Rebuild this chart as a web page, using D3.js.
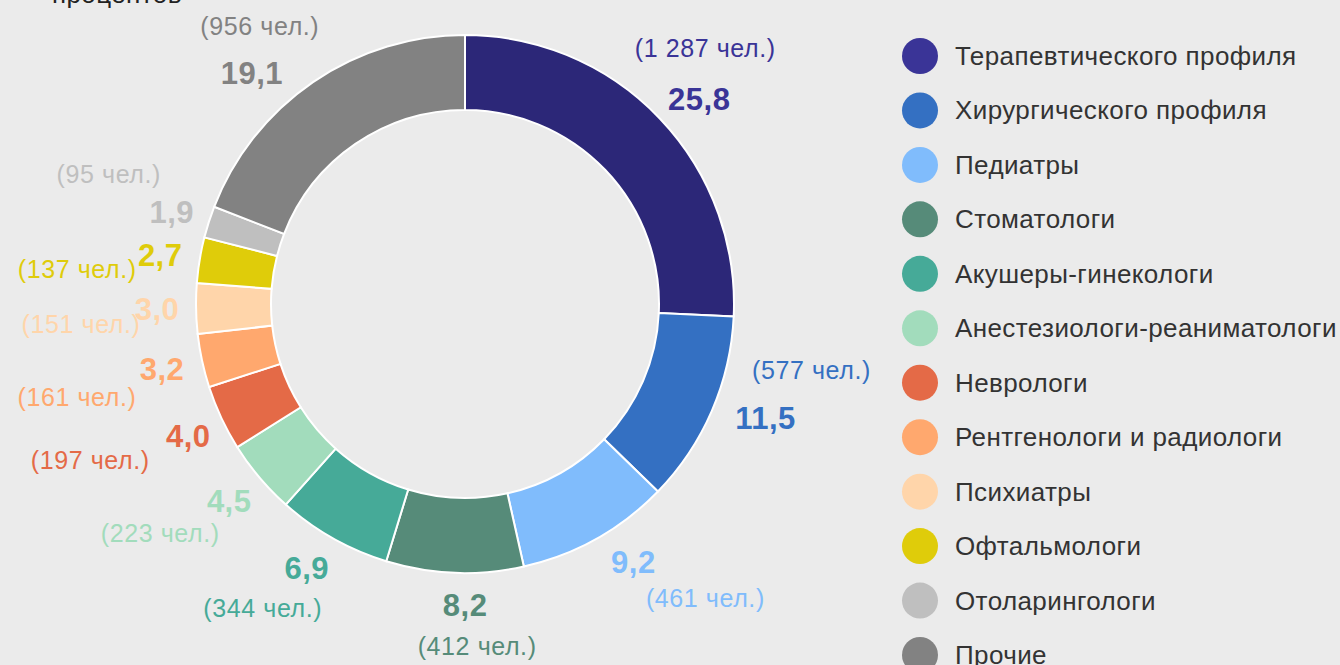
<!DOCTYPE html>
<html>
<head>
<meta charset="utf-8">
<script src="https://cdn.jsdelivr.net/npm/d3@7"></script>
<style>
  html, body { margin: 0; padding: 0; background: #ebebeb; }
  svg { display: block; font-family: "Liberation Sans", Arial, sans-serif; }
</style>
</head>
<body>
<div id="chart"></div>
<script>
// --- data ---
const categories = [
    "Терапевтического профиля",
    "Хирургического профиля",
    "Педиатры",
    "Стоматологи",
    "Акушеры-гинекологи",
    "Анестезиологи-реаниматологи",
    "Неврологи",
    "Рентгенологи и радиологи",
    "Психиатры",
    "Офтальмологи",
    "Отоларингологи",
    "Прочие"
];
const percents = [25.8, 11.5, 9.2, 8.2, 6.9, 4.5, 4.0, 3.2, 3.0, 2.7, 1.9, 19.1];
const people = [1287, 577, 461, 412, 344, 223, 197, 161, 151, 137, 95, 956];

const colors = ["#2c2778", "#3470c2", "#80bcfc", "#568b79", "#46aa98", "#a2dcbc",
                "#e46a47", "#ffa86e", "#ffd5aa", "#dfcc0a", "#bfbfbf", "#828282"];
// first category is drawn a bit lighter in legend and labels
const textColors = colors.map((c, i) => i === 0 ? "#3a3497" : c);

// label nudges: [value dx, value dy, count dx, count dy]
const labelShift = [
    [10, 10, 6, -52], [16, -9, 46, -48], [17, -12, 72, 35], [12, -8, 12, 40],
    [-6, -6, -44, 40], [1, -3, -69, 32], [4, 1, -98, 24], [0, 0, -85, 28],
    [2, 0, -76, 15], [1, 2, -83, 14], [2, 3, -63, -38], [-38, 25, 8, -47]
];

const width = 1340, height = 665;
const cx = 465, cy = 304;
const outerR = 269, innerR = 194;

const svg = d3.select("#chart").append("svg")
    .attr("width", width)
    .attr("height", height);

svg.append("rect").attr("width", width).attr("height", height).attr("fill", "#ebebeb");

// cut-off title fragment at the very top
svg.append("text")
    .attr("x", 52).attr("y", 3)
    .attr("font-size", "26px")
    .attr("letter-spacing", "0.4px")
    .attr("fill", "#222")
    .text("процентов");

const data = categories.map((name, i) => ({ name, pct: percents[i], n: people[i], i }));

const pie = d3.pie().value(d => d.n).sort(null);
const arc = d3.arc().innerRadius(innerR).outerRadius(outerR);
const labelArc = d3.arc().innerRadius(310).outerRadius(310);

const g = svg.append("g").attr("transform", `translate(${cx},${cy})`);
const arcs = pie(data);

g.selectAll("path")
    .data(arcs)
    .enter()
    .append("path")
        .attr("d", arc)
        .attr("fill", d => colors[d.data.i])
        .attr("stroke", "white")
        .attr("stroke-width", 2);

const fmt = v => v.toFixed(1).replace(".", ",");
const fmtN = v => d3.format(",")(v).replace(/,/g, " ");

const labels = g.selectAll("g.lbl")
    .data(arcs)
    .enter()
    .append("g")
        .attr("class", "lbl")
        .attr("transform", d => {
            const [x, y] = labelArc.centroid(d);
            const s = labelShift[d.data.i];
            return `translate(${x + s[0]},${y + s[1]})`;
        });

labels.append("text")
    .attr("text-anchor", "middle")
    .attr("dominant-baseline", "central")
    .attr("font-size", "31px")
    .attr("letter-spacing", "0.5px")
    .attr("font-weight", "bold")
    .attr("fill", d => textColors[d.data.i])
    .text(d => fmt(d.data.pct));

labels.append("text")
    .attr("x", d => labelShift[d.data.i][2])
    .attr("y", d => labelShift[d.data.i][3])
    .attr("text-anchor", "middle")
    .attr("dominant-baseline", "central")
    .attr("font-size", "25px")
    .attr("letter-spacing", "0.6px")
    .attr("fill", d => textColors[d.data.i])
    .text(d => `(${fmtN(d.data.n)} чел.)`);

// --- legend ---
const legendY = d3.scalePoint()
    .domain(categories)
    .range([56, 655]);

const legend = svg.append("g")
    .selectAll("g")
    .data(data)
    .enter()
    .append("g")
        .attr("transform", d => `translate(920,${legendY(d.name)})`);

legend.append("circle")
    .attr("r", 18)
    .attr("fill", d => textColors[d.i]);

legend.append("text")
    .attr("x", 35)
    .attr("dominant-baseline", "central")
    .attr("font-size", "26px")
    .attr("letter-spacing", "0.4px")
    .attr("fill", "#333")
    .text(d => d.name);
</script>
</body>
</html>
